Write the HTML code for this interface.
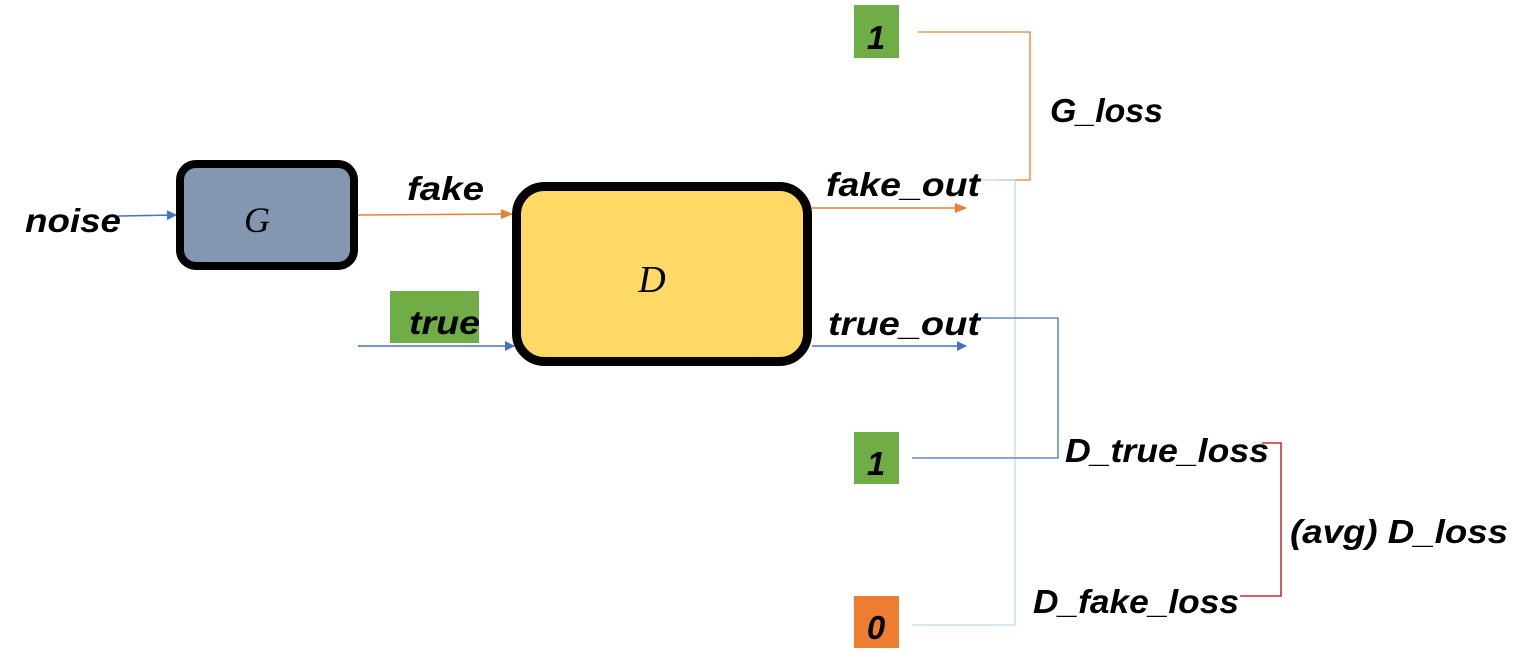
<!DOCTYPE html>
<html><head><meta charset="utf-8"><style>html,body{margin:0;padding:0;background:#fff}svg{display:block}</style></head>
<body>
<svg width="1530" height="672" viewBox="0 0 1530 672" xmlns="http://www.w3.org/2000/svg" font-family="Liberation Sans, sans-serif">
<defs>
<marker id="ab" markerWidth="10" markerHeight="10" refX="9" refY="5" orient="auto" markerUnits="userSpaceOnUse"><path d="M0,0 L10,5 L0,10 z" fill="#4472c4"/></marker>
<marker id="ao" markerWidth="12" markerHeight="10" refX="11" refY="5" orient="auto" markerUnits="userSpaceOnUse"><path d="M0,0 L12,5 L0,10 z" fill="#ed7d31"/></marker>
</defs>
<!-- connectors -->
<line x1="118" y1="216" x2="176" y2="215" stroke="#4472c4" stroke-width="1.5" marker-end="url(#ab)"/>
<line x1="358" y1="215" x2="512" y2="214" stroke="#ed7d31" stroke-width="1.5" marker-end="url(#ao)"/>
<line x1="358" y1="346" x2="514" y2="346" stroke="#4472c4" stroke-width="1.5" marker-end="url(#ab)"/>
<line x1="812" y1="208" x2="966" y2="208" stroke="#ed7d31" stroke-width="1.5" marker-end="url(#ao)"/>
<line x1="812" y1="346" x2="966" y2="346" stroke="#4472c4" stroke-width="1.5" marker-end="url(#ab)"/>
<polyline points="918,32 1030,32 1030,180 998,180" fill="none" stroke="#ed7d31" stroke-width="1.3"/>
<polyline points="980,180 1015,180 1015,625 912,625" fill="none" stroke="#bdd7ee" stroke-width="1.3"/>
<polyline points="980,318 1058,318 1058,458 912,458" fill="none" stroke="#4472c4" stroke-width="1.3"/>
<polyline points="1262,443 1281,443 1281,596 1240,596" fill="none" stroke="#c00000" stroke-width="1.3"/>
<!-- boxes -->
<rect x="180" y="164" width="174" height="102" rx="16" fill="#8497b0" stroke="#000" stroke-width="8"/>
<text x="257" y="232" font-family="Liberation Serif, serif" font-style="italic" font-size="36" text-anchor="middle">G</text>
<rect x="516.5" y="186.5" width="291" height="175" rx="28" fill="#ffd966" stroke="#000" stroke-width="9"/>
<text x="652" y="292" font-family="Liberation Serif, serif" font-style="italic" font-size="38" text-anchor="middle">D</text>
<rect x="390" y="291" width="89" height="52" fill="#70ad47"/>
<rect x="854" y="5" width="45" height="53" fill="#70ad47"/>
<rect x="854" y="432" width="45" height="52" fill="#70ad47"/>
<rect x="854" y="596" width="45" height="52" fill="#ed7d31"/>
<!-- labels -->
<g font-weight="bold" font-style="italic" font-size="33" fill="#000">
<text x="25" y="232" textLength="96" lengthAdjust="spacingAndGlyphs">noise</text>
<text x="407" y="200" textLength="77" lengthAdjust="spacingAndGlyphs">fake</text>
<text x="409" y="334" textLength="71" lengthAdjust="spacingAndGlyphs">true</text>
<text x="826" y="196" textLength="154" lengthAdjust="spacingAndGlyphs">fake_out</text>
<text x="828" y="335" textLength="152" lengthAdjust="spacingAndGlyphs">true_out</text>
<text x="1050" y="122" textLength="113" lengthAdjust="spacingAndGlyphs">G_loss</text>
<text x="1065" y="462" textLength="204" lengthAdjust="spacingAndGlyphs">D_true_loss</text>
<text x="1290" y="543" textLength="218" lengthAdjust="spacingAndGlyphs">(avg) D_loss</text>
<text x="1033" y="613" textLength="206" lengthAdjust="spacingAndGlyphs">D_fake_loss</text>
<text x="876" y="49" text-anchor="middle">1</text>
<text x="876" y="475" text-anchor="middle">1</text>
<text x="876" y="639" text-anchor="middle">0</text>
</g>
</svg>
</body></html>
